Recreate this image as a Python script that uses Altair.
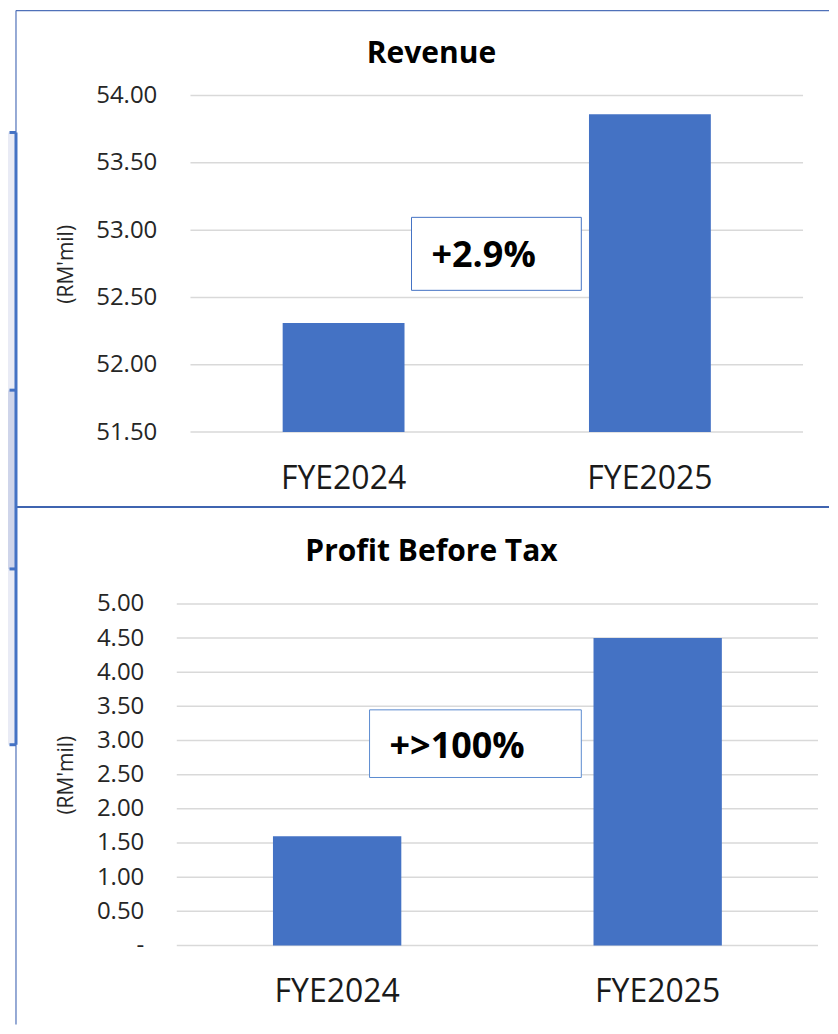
import altair as alt
import pandas as pd

# ---- data ----
categories = ["FYE2024", "FYE2025"]
revenue = [52.31, 53.86]
pbt = [1.60, 4.50]
rev_ticks = [51.5, 52.0, 52.5, 53.0, 53.5, 54.0]
pbt_ticks = [0.0, 0.5, 1.0, 1.5, 2.0, 2.5, 3.0, 3.5, 4.0, 4.5, 5.0]
rev_title = "Revenue"
pbt_title = "Profit Before Tax"
rev_change = "+2.9%"
pbt_change = "+>100%"
rev_box = [52.553, 53.095, 52.806]   # box bottom, box top, label centre (RM'mil)
pbt_box = [2.459, 3.449, 2.898]

FONT = "Open Sans"
BAR = "#4472C4"
GRID = "#D9D9D9"
FRAME = "#4F71B9"

rev_df = pd.DataFrame({"cat": categories, "val": revenue, "base": [rev_ticks[0]] * 2})
pbt_df = pd.DataFrame({"cat": categories, "val": pbt})
one = pd.DataFrame({"k": [0]})

W1, H1 = 627, 337
W2, H2 = 642, 342


def deco_rule(x, x2, y, y2, color=FRAME, width=1.0):
    return alt.Chart(one).mark_rule(color=color, strokeWidth=width).encode(
        x=alt.value(x), x2=alt.value(x2), y=alt.value(y), y2=alt.value(y2))


def deco_rect(x, x2, y, y2, fill):
    return alt.Chart(one).mark_rect(fill=fill, stroke=None).encode(
        x=alt.value(x), x2=alt.value(x2), y=alt.value(y), y2=alt.value(y2))


def title_text(txt, x, y):
    return alt.Chart(pd.DataFrame({"s": [txt]})).mark_text(
        align="center", baseline="middle", font=FONT, fontSize=30,
        fontWeight="bold", color="black").encode(
        x=alt.value(x), y=alt.value(y), text="s:N")


def y_axis(ticks, pad, zero_dash=False):
    expr = "format(datum.value, '.2f')"
    if zero_dash:
        expr = "datum.value == 0 ? '-\u00a0\u00a0' : format(datum.value, '.2f')"
    return alt.Axis(values=ticks, labelExpr=expr, domain=False, ticks=False,
                    grid=False, labelOverlap=False,
                    labelFontSize=24, labelFont=FONT, labelColor="#262626",
                    labelPadding=pad, title="(RM'mil)", titleFont=FONT,
                    titleFontSize=21, titleFontWeight="normal", titleColor="#262626",
                    titleX=-110, titleBaseline="middle", titleAngle=270)


x_axis = alt.Axis(domain=False, ticks=False, labelAngle=0, labelFontSize=32,
                  labelFont=FONT, labelColor="#1a1a1a", labelPadding=31, title=None,
                  grid=False)

# ---------------- Revenue ----------------
rev_x = alt.X("cat:N", sort=categories, axis=x_axis,
              scale=alt.Scale(paddingInner=0.6022, paddingOuter=0.3233, align=0.5345))
rev_sc = alt.Scale(domain=[51.5, 54.0], zero=False, nice=False)
rev_ax = y_axis(rev_ticks, 20)

rev_grid = alt.Chart(pd.DataFrame({"t": rev_ticks})).mark_rule(
    color=GRID, strokeWidth=1.5).encode(
    y=alt.Y("t:Q", scale=rev_sc, axis=rev_ax),
    x=alt.value(13.7), x2=alt.value(W1))

rev_bars = alt.Chart(rev_df).mark_bar(color=BAR).encode(
    x=rev_x, y=alt.Y("val:Q", scale=rev_sc, axis=rev_ax), y2="base:Q")

rev_boxc = alt.Chart(pd.DataFrame({"b": [rev_box[0]], "t": [rev_box[1]]})).mark_rect(
    fill="white", stroke=BAR, strokeWidth=1).encode(
    x=alt.value(235), x2=alt.value(405),
    y=alt.Y("b:Q", scale=rev_sc, axis=rev_ax), y2="t:Q")

rev_label = alt.Chart(pd.DataFrame({"y": [rev_box[2]], "s": [rev_change]})).mark_text(
    align="left", baseline="middle", font=FONT, fontSize=36, fontWeight="bold",
    color="black").encode(x=alt.value(255),
                          y=alt.Y("y:Q", scale=rev_sc, axis=rev_ax), text="s:N")

# frame and neighbouring table strip (decoration), in top-plot pixel coords
frame = [
    deco_rect(-169, -161, 37, 295, "#E9EBF5"),
    deco_rect(-169, -161, 295, 474, "#CFD5EA"),
    deco_rect(-169, -161, 474, 650, "#E9EBF5"),
    deco_rule(-161, 653, -85, -85, FRAME, 1.2),
    deco_rule(-161, -161, -85, 930, FRAME, 1.2),
    deco_rule(-161, 653, 412, 412, "#3F64B0", 2),
    deco_rule(-167.5, -161, 37, 37, BAR, 3),
    deco_rule(-167.5, -161, 295, 295, BAR, 3),
    deco_rule(-167.5, -161, 474, 474, BAR, 3),
    deco_rule(-167.5, -161, 650, 650, BAR, 3),
    deco_rule(-161, -161, 37, 650, BAR, 3),
]

top = alt.layer(rev_grid, *frame, rev_bars, rev_boxc, rev_label,
                title_text(rev_title, 255, -42)).properties(width=W1, height=H1)

# ---------------- Profit Before Tax ----------------
pbt_x = alt.X("cat:N", sort=categories, axis=x_axis,
              scale=alt.Scale(paddingInner=0.5996, paddingOuter=0.3, align=0.5))
pbt_sc = alt.Scale(domain=[0, 5.0], nice=False)
pbt_ax = y_axis(pbt_ticks, 33, zero_dash=True)

pbt_grid = alt.Chart(pd.DataFrame({"t": pbt_ticks})).mark_rule(
    color=GRID, strokeWidth=1.5).encode(
    y=alt.Y("t:Q", scale=pbt_sc, axis=pbt_ax),
    x=alt.value(0), x2=alt.value(W2))

pbt_bars = alt.Chart(pbt_df).mark_bar(color=BAR).encode(
    x=pbt_x, y=alt.Y("val:Q", scale=pbt_sc, axis=pbt_ax))

pbt_boxc = alt.Chart(pd.DataFrame({"b": [pbt_box[0]], "t": [pbt_box[1]]})).mark_rect(
    fill="white", stroke="#5B8BD0", strokeWidth=1).encode(
    x=alt.value(193), x2=alt.value(405),
    y=alt.Y("b:Q", scale=pbt_sc, axis=pbt_ax), y2="t:Q")

pbt_label = alt.Chart(pd.DataFrame({"y": [pbt_box[2]], "s": [pbt_change]})).mark_text(
    align="left", baseline="middle", font=FONT, fontSize=36, fontWeight="bold",
    color="black").encode(x=alt.value(213),
                          y=alt.Y("y:Q", scale=pbt_sc, axis=pbt_ax), text="s:N")

bottom = alt.layer(pbt_grid, pbt_bars, pbt_boxc, pbt_label,
                   title_text(pbt_title, 255, -52)).properties(width=W2, height=H2)

chart = alt.vconcat(top, bottom, spacing=172, bounds="flush").configure_view(
    stroke=None).properties(
    padding={"left": 0, "top": 1, "right": 0, "bottom": 0})

chart.save("out.html", embed_options={"renderer": "svg", "actions": False})
